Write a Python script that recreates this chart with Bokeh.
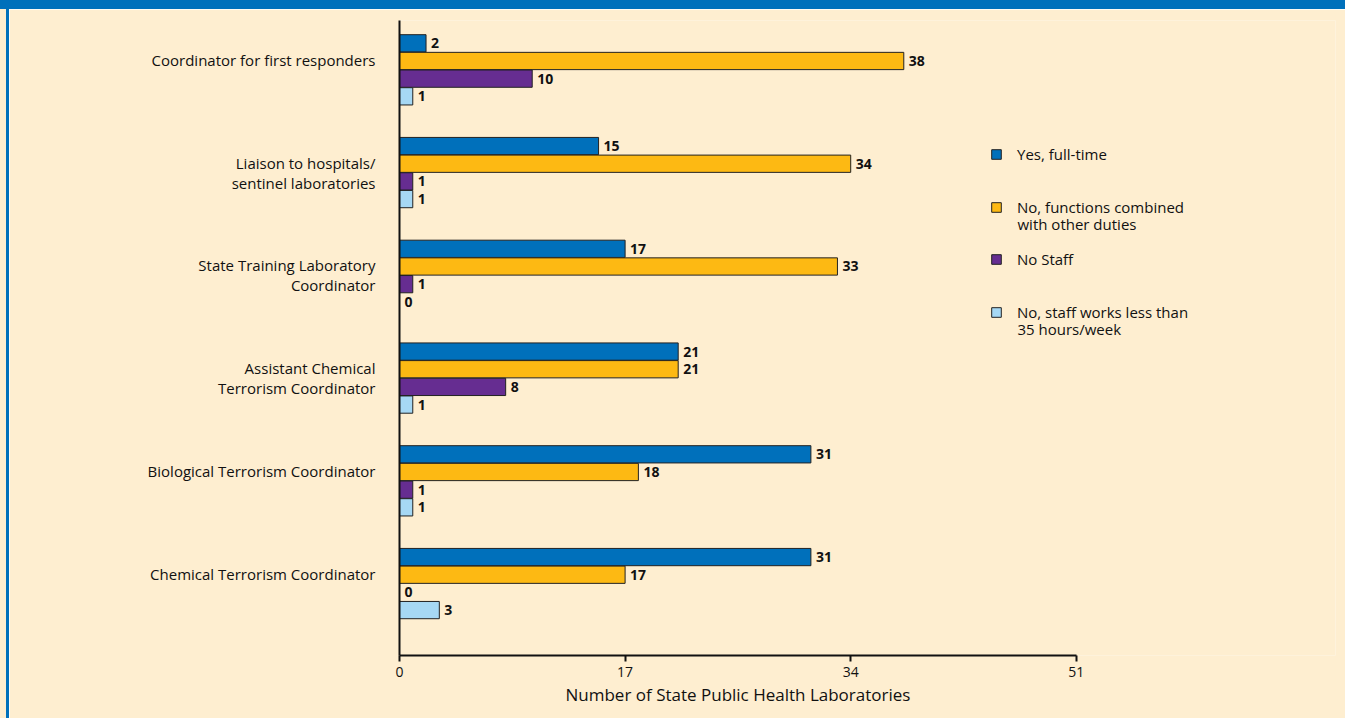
from bokeh.plotting import figure
from bokeh.models import (Range1d, FixedTicker, Legend, LegendItem, ColumnDataSource, Label, Div, Title)
from bokeh.layouts import column, row
from bokeh.transform import dodge
from bokeh.embed import file_html
from bokeh.resources import INLINE
from bokeh.core.properties import value

categories = ["Coordinator for first responders",
              "Liaison to hospitals/\nsentinel laboratories",
              "State Training Laboratory\nCoordinator",
              "Assistant Chemical\nTerrorism Coordinator",
              "Biological Terrorism Coordinator",
              "Chemical Terrorism Coordinator"]
series_first = ["Yes, full-time", "No, functions combined", "No Staff", "No, staff works less than"]
series_second = ["", "with other duties", "", "35 hours/week"]
full_time = [2, 15, 17, 21, 31, 31]
combined = [38, 34, 33, 21, 18, 17]
no_staff = [10, 1, 1, 8, 1, 0]
part_time = [1, 1, 0, 1, 1, 3]
x_ticks = [0, 17, 34, 51]
x_title = "Number of State Public Health Laboratories"

colors = ["#0070BB", "#FDB913", "#662D91", "#A6D8F4"]
CREAM = "#FEEED0"
FONT = "Open Sans"
INK = "#111111"

n = len(categories)
pos = [n - 1 - i for i in range(n)]
cols = ["full_time", "combined", "no_staff", "part_time"]
data = dict(pos=pos, full_time=full_time, combined=combined, no_staff=no_staff, part_time=part_time)
for c in cols:
    data[c + "_lbl"] = [str(v) for v in data[c]]
source = ColumnDataSource(data)

p = figure(width=1336, height=709, x_range=Range1d(0, 70.53), y_range=Range1d(-0.70, 5.48),
           output_backend="svg", toolbar_location=None,
           min_border_left=390, min_border_right=10, min_border_top=11, min_border_bottom=63)
p.background_fill_color = CREAM
p.border_fill_color = CREAM
p.outline_line_color = None
p.xgrid.visible = False
p.ygrid.visible = False

pitch = 0.172
offsets = [1.5 * pitch, 0.5 * pitch, -0.5 * pitch, -1.5 * pitch]
renderers = []
for c, col, off in zip(cols, colors, offsets):
    r = p.hbar(y=dodge("pos", off, range=p.y_range), left=0, right=c, height=0.168,
               fill_color=col, line_color="#222222", line_width=1, source=source)
    renderers.append(r)
    p.text(x=c, y=dodge("pos", off, range=p.y_range), text=c + "_lbl", source=source,
           x_offset=5, text_baseline="middle", text_align="left",
           text_font=value(FONT), text_font_size="14px", text_font_style="bold",
           text_color=INK)

# axes
p.xaxis.ticker = FixedTicker(ticks=x_ticks)
p.xaxis.bounds = (x_ticks[0], x_ticks[-1])
p.xaxis.axis_line_width = 2
p.xaxis.axis_line_color = INK
p.xaxis.major_tick_line_color = INK
p.xaxis.major_tick_line_width = 2
p.xaxis.major_tick_out = 6
p.xaxis.major_tick_in = 0
p.xaxis.minor_tick_line_color = None
p.xaxis.major_label_text_font = FONT
p.xaxis.major_label_text_font_size = "14px"
p.xaxis.major_label_text_color = INK
p.xaxis.major_label_standoff = 5

# single-line category labels sit slightly above the group centre in the original
p.yaxis.ticker = FixedTicker(ticks=pos)
p.yaxis.major_label_overrides = {pv: (cat if "\n" in cat else cat + "\n ")
                                 for pv, cat in zip(pos, categories)}
p.yaxis.axis_line_width = 2
p.yaxis.axis_line_color = INK
p.yaxis.major_tick_line_color = None
p.yaxis.minor_tick_line_color = None
p.yaxis.major_label_text_font = FONT
p.yaxis.major_label_text_font_size = "15px"
p.yaxis.major_label_text_line_height = 1.0
p.yaxis.major_label_text_color = INK
p.yaxis.major_label_standoff = 18

p.add_layout(Title(text=x_title, align="left", offset=166, standoff=2,
                   text_font=FONT, text_font_size="17px", text_font_style="normal",
                   text_color=INK), "below")

legend_y = [491.5, 438.5, 386.5, 333.5]
for r, name, second, ly in zip(renderers, series_first, series_second, legend_y):
    lg = Legend(items=[LegendItem(label=name, renderers=[r])], location=(591, ly),
                background_fill_alpha=0, border_line_color=None, padding=0, margin=0,
                glyph_width=12, glyph_height=12, label_standoff=15,
                label_text_font=FONT, label_text_font_size="15px", label_text_color=INK)
    p.add_layout(lg)
    if second:
        p.add_layout(Label(x=618, y=ly - 6.5, x_units="screen", y_units="screen",
                           text=second, text_baseline="middle", text_align="left",
                           text_font=FONT, text_font_size="15px", text_color=INK))

band = Div(width=1345, height=9, margin=0, styles={"background-color": "#0070BB"})
pad = Div(width=6, height=709, margin=0, styles={"background-color": CREAM})
stripe = Div(width=3, height=709, margin=0, styles={"background-color": "#0070BB"})
layout = column(band, row(pad, stripe, p, spacing=0), spacing=0)

open("out.html", "w").write(file_html(layout, INLINE))
